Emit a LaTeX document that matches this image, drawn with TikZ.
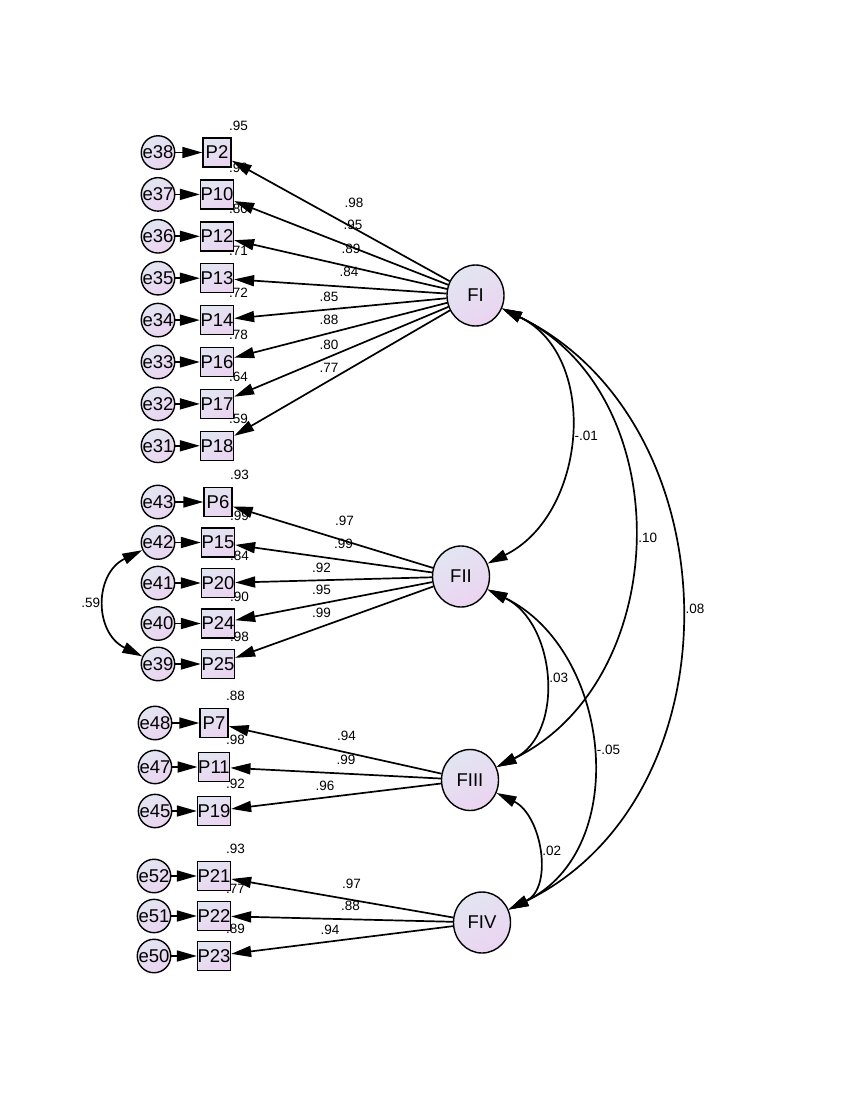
\documentclass[tikz,border=0pt]{standalone}
\usepackage{fontspec}
\setmainfont{Liberation Sans}
\usetikzlibrary{shapes.geometric, arrows.meta}
\definecolor{shadetop}{HTML}{E2E5F1}
\definecolor{shadebot}{HTML}{EBD4F1}
\tikzstyle{latent} = [ellipse, minimum width=57pt, minimum height=61pt, inner sep=0pt, draw=black, line width=1.4pt, top color=shadetop, bottom color=shadebot, shading angle=30, font=\fontsize{18.5}{18.5}\selectfont]
\tikzstyle{observed} = [rectangle, minimum width=28pt, minimum height=29pt, inner sep=0pt, draw=black, line width=1.4pt, top color=shadetop, bottom color=shadebot, shading angle=30, font=\fontsize{18.5}{18.5}\selectfont]
\tikzstyle{errorterm} = [circle, minimum size=30pt, inner sep=0pt, draw=black, line width=1.4pt, top color=shadetop, bottom color=shadebot, shading angle=30, font=\fontsize{18.5}{18.5}\selectfont, node distance=59pt]
\tikzstyle{arrow} = [line width=1.7pt, ->, >={Triangle[length=20pt, width=11pt]}]
\tikzstyle{covar} = [line width=1.7pt, <->, >={Triangle[length=20pt, width=11pt]}]
\tikzstyle{lbl} = [inner sep=2pt, font=\fontsize{13.5}{13.5}\selectfont]
\tikzstyle{smc} = [lbl, node distance=27pt, xshift=21.5pt]

\begin{document}
\begin{tikzpicture}[x=1pt, y=1pt]
\useasboundingbox (0,0) rectangle (850,-1100);

% factor FI
\begin{scope}[node distance=41.9pt]
\node (p2) [observed] at (217,-152.5) {P2};
\node (p10) [observed, below of=p2] {P10};
\node (p12) [observed, below of=p10] {P12};
\node (p13) [observed, below of=p12] {P13};
\node (p14) [observed, below of=p13] {P14};
\node (p16) [observed, below of=p14] {P16};
\node (p17) [observed, below of=p16] {P17};
\node (p18) [observed, below of=p17] {P18};
\end{scope}
\node (e38) [errorterm, left of=p2] {e38};
\node (e37) [errorterm, left of=p10] {e37};
\node (e36) [errorterm, left of=p12] {e36};
\node (e35) [errorterm, left of=p13] {e35};
\node (e34) [errorterm, left of=p14] {e34};
\node (e33) [errorterm, left of=p16] {e33};
\node (e32) [errorterm, left of=p17] {e32};
\node (e31) [errorterm, left of=p18] {e31};

% factor FII
\begin{scope}[node distance=40.5pt]
\node (p6) [observed] at (218,-502) {P6};
\node (p15) [observed, below of=p6] {P15};
\node (p20) [observed, below of=p15] {P20};
\node (p24) [observed, below of=p20] {P24};
\node (p25) [observed, below of=p24] {P25};
\end{scope}
\node (e43) [errorterm, left of=p6, node distance=60pt] {e43};
\node (e42) [errorterm, left of=p15, node distance=60pt] {e42};
\node (e41) [errorterm, left of=p20, node distance=60pt] {e41};
\node (e40) [errorterm, left of=p24, node distance=60pt] {e40};
\node (e39) [errorterm, left of=p25, node distance=60pt] {e39};

% factor FIII
\begin{scope}[node distance=44pt]
\node (p7) [observed] at (214,-723) {P7};
\node (p11) [observed, below of=p7] {P11};
\node (p19) [observed, below of=p11] {P19};
\end{scope}
\node (e48) [errorterm, left of=p7] {e48};
\node (e47) [errorterm, left of=p11] {e47};
\node (e45) [errorterm, left of=p19] {e45};

% factor FIV
\begin{scope}[node distance=40pt]
\node (p21) [observed] at (214,-876) {P21};
\node (p22) [observed, below of=p21] {P22};
\node (p23) [observed, below of=p22] {P23};
\end{scope}
\node (e52) [errorterm, left of=p21, node distance=60pt] {e52};
\node (e51) [errorterm, left of=p22, node distance=60pt] {e51};
\node (e50) [errorterm, left of=p23, node distance=60pt] {e50};

% latent variables
\node (fi) [latent] at (475.5,-295.5) {FI};
\node (fii) [latent] at (461,-576.5) {FII};
\node (fiii) [latent] at (470,-780) {FIII};
\node (fiv) [latent] at (482,-922.5) {FIV};

% squared multiple correlations
\node (r2) [smc, above of=p2] {.95};
\node (r10) [smc, above of=p10] {.90};
\node (r12) [smc, above of=p12] {.80};
\node (r13) [smc, above of=p13] {.71};
\node (r14) [smc, above of=p14] {.72};
\node (r16) [smc, above of=p16] {.78};
\node (r17) [smc, above of=p17] {.64};
\node (r18) [smc, above of=p18] {.59};
\node (r6) [smc, above of=p6] {.93};
\node (r15) [smc, above of=p15] {.99};
\node (r20) [smc, above of=p20] {.84};
\node (r24) [smc, above of=p24] {.90};
\node (r25) [smc, above of=p25] {.98};
\node (r7) [smc, above of=p7] {.88};
\node (r11) [smc, above of=p11] {.98};
\node (r19) [smc, above of=p19] {.92};
\node (r21) [smc, above of=p21] {.93};
\node (r22) [smc, above of=p22] {.77};
\node (r23) [smc, above of=p23] {.89};

% error terms
\draw [arrow] (e38) -- (p2);
\draw [arrow] (e37) -- (p10);
\draw [arrow] (e36) -- (p12);
\draw [arrow] (e35) -- (p13);
\draw [arrow] (e34) -- (p14);
\draw [arrow] (e33) -- (p16);
\draw [arrow] (e32) -- (p17);
\draw [arrow] (e31) -- (p18);
\draw [arrow] (e43) -- (p6);
\draw [arrow] (e42) -- (p15);
\draw [arrow] (e41) -- (p20);
\draw [arrow] (e40) -- (p24);
\draw [arrow] (e39) -- (p25);
\draw [arrow] (e48) -- (p7);
\draw [arrow] (e47) -- (p11);
\draw [arrow] (e45) -- (p19);
\draw [arrow] (e52) -- (p21);
\draw [arrow] (e51) -- (p22);
\draw [arrow] (e50) -- (p23);

% loadings
\draw [arrow] (fi) -- (p2);
\draw [arrow] (fi) -- (p10);
\draw [arrow] (fi) -- (p12);
\draw [arrow] (fi) -- (p13);
\draw [arrow] (fi) -- (p14);
\draw [arrow] (fi) -- (p16);
\draw [arrow] (fi) -- (p17);
\draw [arrow] (fi) -- (p18);
\draw [arrow] (fii) -- (p6);
\draw [arrow] (fii) -- (p15);
\draw [arrow] (fii) -- (p20);
\draw [arrow] (fii) -- (p24);
\draw [arrow] (fii) -- (p25);
\draw [arrow] (fiii) -- (p7);
\draw [arrow] (fiii) -- (p11);
\draw [arrow] (fiii) -- (p19);
\draw [arrow] (fiv) -- (p21);
\draw [arrow] (fiv) -- (p22);
\draw [arrow] (fiv) -- (p23);

\node (w2) [lbl] at (354,-203) {.98};
\node (w10) [lbl] at (353,-225) {.95};
\node (w12) [lbl] at (351,-248.5) {.89};
\node (w13) [lbl] at (349,-272) {.84};
\node (w14) [lbl] at (329,-297) {.85};
\node (w16) [lbl] at (329,-320) {.88};
\node (w17) [lbl] at (329,-344.5) {.80};
\node (w18) [lbl] at (329,-368) {.77};
\node (w6) [lbl] at (344.5,-521) {.97};
\node (w15) [lbl] at (343.5,-544) {.99};
\node (w20) [lbl] at (321.5,-568) {.92};
\node (w24) [lbl] at (321.5,-590) {.95};
\node (w25) [lbl] at (321.5,-612.5) {.99};
\node (w7) [lbl] at (346.5,-736) {.94};
\node (w11) [lbl] at (346,-760) {.99};
\node (w19) [lbl] at (325,-786) {.96};
\node (w21) [lbl] at (351.5,-883.5) {.97};
\node (w22) [lbl] at (350.5,-906) {.88};
\node (w23) [lbl] at (330,-929.5) {.94};

% covariances
\draw [covar] (fi) to[out=-26, in=26, looseness=1.1] node (c12) [lbl, right=3pt] {-.01} (fii);
\draw [covar] (fi) to[out=-26, in=26, looseness=1.1] node (c13) [lbl, right=3pt] {.10} (fiii);
\draw [covar] (fi) to[out=-26, in=26, looseness=1.1] node (c14) [lbl, right=3pt] {.08} (fiv);
\draw [covar] (fii) to[out=-26, in=26, looseness=1.1] node (c23) [lbl, right=3pt] {.03} (fiii);
\draw [covar] (fii) to[out=-26, in=26, looseness=1.1] node (c24) [lbl, right=3pt] {-.05} (fiv);
\draw [covar] (fiii) to[out=-26, in=26, looseness=1.1] node (c34) [lbl, right=3pt] {.02} (fiv);
\draw [covar] (e42) to[out=206, in=154, looseness=1.3] node (c4239) [lbl, left=3pt] {.59} (e39);

\end{tikzpicture}
\end{document}
